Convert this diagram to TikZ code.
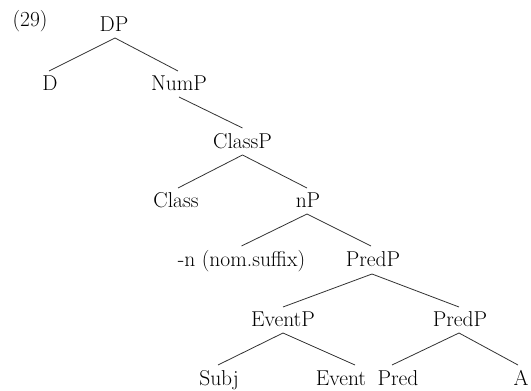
\documentclass[tikz,border=0pt]{standalone}
\begin{document}
\begin{tikzpicture}[x=1pt,y=1pt,
  lbl/.style={anchor=base,inner sep=0pt,font=\fontsize{21.5}{25}\selectfont},
  edge/.style={draw=black!80,line width=0.8pt}]
\useasboundingbox (0,0) rectangle (531,391);
% baselines (image y): 32,91,149,208,267,327,386
\node[lbl] (ex)     at (30,364)  {(29)};
\node[lbl] (DP)     at (114,359) {DP};
\node[lbl] (D)      at (50,300)  {D};
\node[lbl] (NumP)   at (179,300) {NumP};
\node[lbl] (ClassP) at (242.5,242) {ClassP};
\node[lbl] (Class)  at (176,183) {Class};
\node[lbl] (nP)     at (308,183) {nP};
\node[lbl] (suf)    at (241.5,124) {-n (nom.suffix)};
\node[lbl] (PredP)  at (373,124) {PredP};
\node[lbl] (EventP) at (283,64)  {EventP};
\node[lbl] (PredPb) at (460,64)  {PredP};
\node[lbl] (Subj)   at (219,5)   {Subj};
\node[lbl] (Event)  at (341,5)   {Event};
\node[lbl] (Pred)   at (398,5)   {Pred};
\node[lbl] (A)      at (521,5)   {A};
\path[edge] ([xshift=1pt,yshift=-6pt]DP.base) -- ([xshift=-1pt,yshift=20pt]D.base);
\path[edge] ([xshift=1pt,yshift=-6pt]DP.base) -- ([xshift=-1pt,yshift=20pt]NumP.base);
\path[edge] ([yshift=-6pt]NumP.base) -- ([yshift=21pt]ClassP.base);
\path[edge] ([yshift=-6pt]ClassP.base) -- ([xshift=2pt,yshift=20pt]Class.base);
\path[edge] ([yshift=-6pt]ClassP.base) -- ([xshift=-1pt,yshift=20pt]nP.base);
\path[edge] ([xshift=-1pt,yshift=-6pt]nP.base) -- ([yshift=21pt]suf.base);
\path[edge] ([xshift=-1pt,yshift=-6pt]nP.base) -- ([xshift=-2pt,yshift=21pt]PredP.base);
\path[edge] ([xshift=-1pt,yshift=-7pt]PredP.base) -- ([yshift=20pt]EventP.base);
\path[edge] ([xshift=-1pt,yshift=-7pt]PredP.base) -- ([xshift=-1pt,yshift=20pt]PredPb.base);
\path[edge] ([yshift=-6pt]EventP.base) -- ([xshift=-1pt,yshift=21pt]Subj.base);
\path[edge] ([yshift=-6pt]EventP.base) -- ([xshift=14pt,yshift=21pt]Event.base);
\path[edge] ([xshift=-1pt,yshift=-6pt]PredPb.base) -- ([xshift=-6pt,yshift=21pt]Pred.base);
\path[edge] ([xshift=-1pt,yshift=-6pt]PredPb.base) -- ([xshift=-3pt,yshift=21pt]A.base);
\end{tikzpicture}
\end{document}
